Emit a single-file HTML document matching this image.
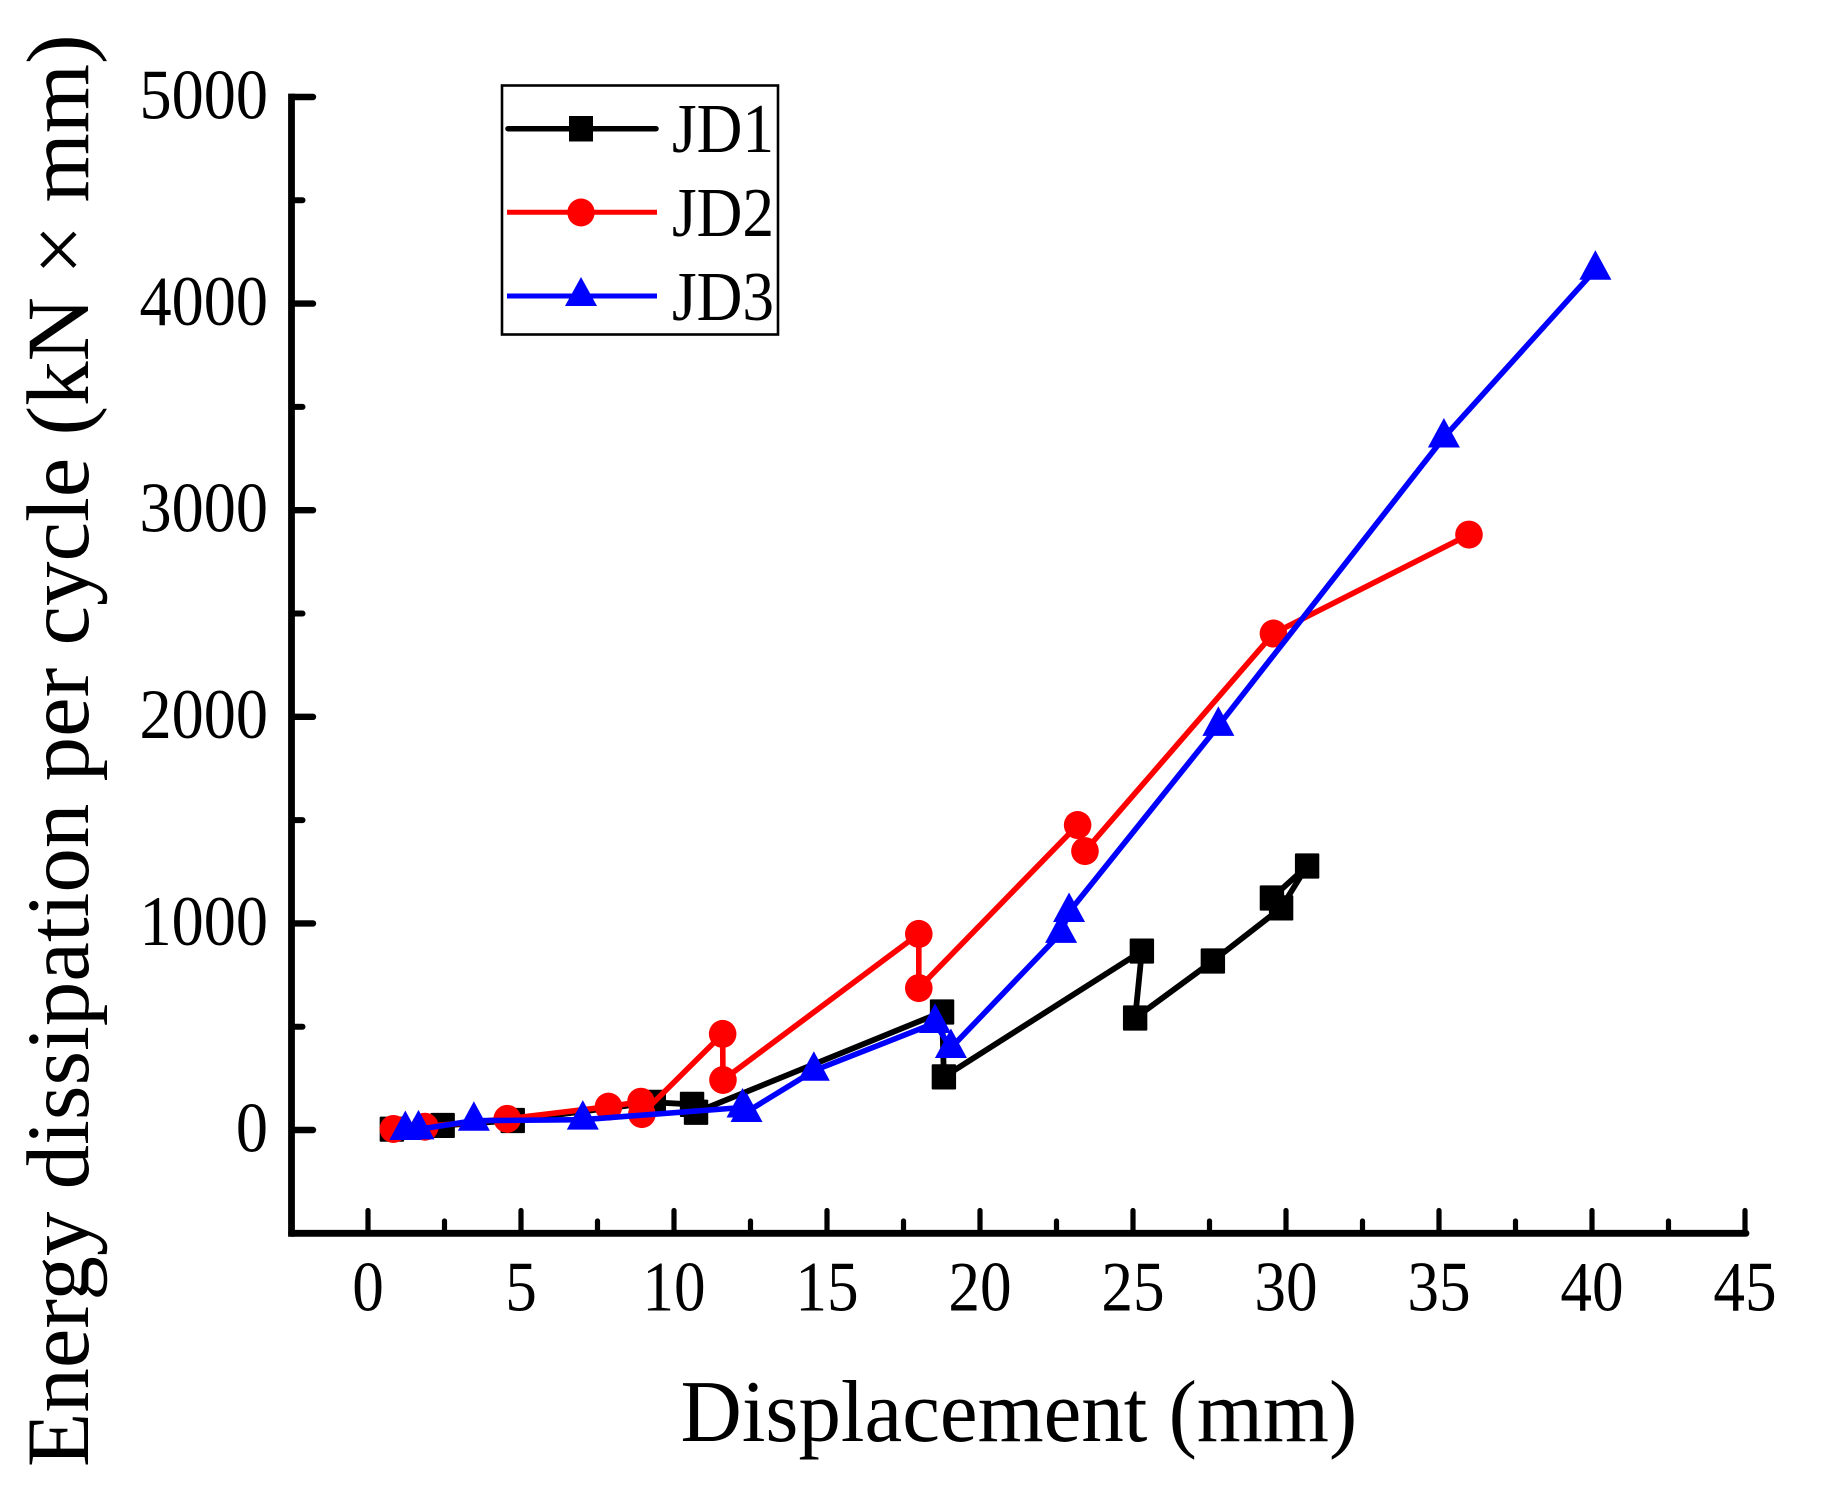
<!DOCTYPE html>
<html lang="en">
<head>
<meta charset="utf-8">
<title>Energy dissipation per cycle</title>
<style>
html,body{margin:0;padding:0;background:#fff;}
svg{display:block;}
text{font-family:"Liberation Serif","Times New Roman",serif;fill:#000;}
</style>
</head>
<body>
<svg id="chart" xmlns="http://www.w3.org/2000/svg" width="1822" height="1490" viewBox="0 0 1822 1490">
  <rect x="0" y="0" width="1822" height="1490" fill="#fff"/>
  <g id="axes"></g>
  <g id="series"></g>
  <text transform="translate(680.5,1441) scale(0.965,1)" font-size="88">Displacement (mm)</text>
  <text transform="translate(88,1467) rotate(-90)" font-size="89" xml:space="preserve">Energy dissipation per cycle (kN × mm)</text>
  <g>
    <rect x="502" y="85.5" width="276" height="249" fill="#fff" stroke="#000" stroke-width="2.6"/>
    <g>
      <line x1="508" y1="128.7" x2="656" y2="128.7" stroke="#000" stroke-width="5.5" stroke-linecap="round"/>
      <rect x="569" y="116" width="24" height="25.5" fill="#000"/>
      <text transform="translate(672,152) scale(0.905,1)" font-size="70">JD1</text>
    </g>
    <g>
      <line x1="507" y1="212.3" x2="657" y2="212.3" stroke="#f00" stroke-width="5"/>
      <ellipse cx="581" cy="212.5" rx="13.7" ry="14" fill="#f00"/>
      <text transform="translate(672,236) scale(0.905,1)" font-size="70">JD2</text>
    </g>
    <g>
      <line x1="507" y1="296" x2="657" y2="296" stroke="#00f" stroke-width="5"/>
      <polygon points="581,277 597,306 565,306" fill="#00f"/>
      <text transform="translate(672,320) scale(0.905,1)" font-size="70">JD3</text>
    </g>
  </g>
</svg>
<script>
var xMajorTicks = [0, 5, 10, 15, 20, 25, 30, 35, 40, 45];
var xMinorTicks = [2.5, 7.5, 12.5, 17.5, 22.5, 27.5, 32.5, 37.5, 42.5];
var yMajorTicks = [0, 1000, 2000, 3000, 4000, 5000];
var yMinorTicks = [500, 1500, 2500, 3500, 4500];
var xTickLabels = ['0', '5', '10', '15', '20', '25', '30', '35', '40', '45'];
var yTickLabels = ['0', '1000', '2000', '3000', '4000', '5000'];

var jd1X = [0.78, 2.44, 4.73, 9.34, 10.59, 10.72, 18.76, 18.82, 25.29, 25.07, 27.61, 29.84, 30.69, 29.54];
var jd1Y = [4, 22, 46, 134, 124, 86, 571, 257, 866, 542, 818, 1075, 1278, 1123];
var jd2X = [0.83, 1.86, 4.55, 7.86, 8.92, 8.95, 11.59, 11.60, 18.0, 18.0, 23.19, 23.43, 29.59, 35.98];
var jd2Y = [5, 16, 54, 113, 137, 77, 465, 242, 949, 687, 1476, 1350, 2403, 2882];
var jd3X = [1.22, 1.65, 3.46, 7.02, 12.24, 12.37, 14.57, 18.53, 19.05, 22.65, 22.91, 27.79, 35.16, 40.11];
var jd3Y = [0, 3, 45, 50, 109, 87, 287, 518, 397, 954, 1055, 1956, 3352, 4164];

var NS = 'http://www.w3.org/2000/svg';
function xScale(v) { return 368 + v * 30.6; }
function yScale(v) { return 1130 - v * 0.2066; }
function make(tag, attrs, parent) {
  var el = document.createElementNS(NS, tag);
  for (var k in attrs) { el.setAttribute(k, attrs[k]); }
  parent.appendChild(el);
  return el;
}
var axes = document.getElementById('axes');
var seriesRoot = document.getElementById('series');
function strokeLine(x1, y1, x2, y2, w, parent, cap) {
  return make('line', { x1: x1, y1: y1, x2: x2, y2: y2, 'stroke-width': w, stroke: '#000', 'stroke-linecap': cap || 'round' }, parent);
}

xMajorTicks.forEach(function (t, i) {
  var tick = strokeLine(xScale(t), yScale(-500), xScale(t), 1210.5, 5.2, axes);
  
  
  var label = make('text', { transform: 'translate(' + xScale(t) + ',1310.7) scale(0.89,1)', 'font-size': 71, 'text-anchor': 'middle' }, axes);
  label.textContent = xTickLabels[i];
  
  
});
xMinorTicks.forEach(function (t) {
  var tick = strokeLine(xScale(t), yScale(-500), xScale(t), 1221, 5.2, axes);
  
  
});
yMajorTicks.forEach(function (t, i) {
  var tick = strokeLine(292, yScale(t), 313, yScale(t), 6.4, axes);
  
  
  var label = make('text', { transform: 'translate(268,' + (yScale(t) + 21.4) + ') scale(0.905,1)', 'font-size': 71, 'text-anchor': 'end' }, axes);
  label.textContent = yTickLabels[i];
  
  
});
yMinorTicks.forEach(function (t) {
  var tick = strokeLine(292, yScale(t), 302.5, yScale(t), 6, axes);
  
  
});

var xAxisLine = strokeLine(xScale(-2.5), yScale(-500), xScale(45) + 1, yScale(-500), 6.8, axes, 'round');


var yAxisLine = strokeLine(xScale(-2.5), yScale(-500), xScale(-2.5), yScale(5000), 6.8, axes, 'square');



function drawLine(xs, ys, color, width, parent) {
  var pts = xs.map(function (x, i) { return xScale(x) + ',' + yScale(ys[i]); }).join(' ');
  return make('polyline', { points: pts, fill: 'none', stroke: color, 'stroke-width': width, 'stroke-linejoin': 'round' }, parent);
}

var g1 = make('g', {}, seriesRoot);


var line1 = drawLine(jd1X, jd1Y, '#000', 5.8, g1);


jd1X.forEach(function (x, i) {
  var m = make('rect', { x: xScale(x) - 12.2, y: yScale(jd1Y[i]) - 12.6, width: 24.4, height: 25.2, fill: '#000', rx: 1 }, g1);
  
  
});

var g2 = make('g', {}, seriesRoot);


var line2 = drawLine(jd2X, jd2Y, '#f00', 5.6, g2);


jd2X.forEach(function (x, i) {
  var m = make('ellipse', { cx: xScale(x), cy: yScale(jd2Y[i]), rx: 13.8, ry: 14, fill: '#f00' }, g2);
  
  
});

var g3 = make('g', {}, seriesRoot);


var line3 = drawLine(jd3X, jd3Y, '#00f', 5.6, g3);


jd3X.forEach(function (x, i) {
  var cx = xScale(x), cy = yScale(jd3Y[i]);
  var pts = cx + ',' + (cy - 19.5) + ' ' + (cx + 16) + ',' + (cy + 10) + ' ' + (cx - 16) + ',' + (cy + 10);
  var m = make('polygon', { points: pts, fill: '#00f' }, g3);
  
  
});
</script>
</body>
</html>
